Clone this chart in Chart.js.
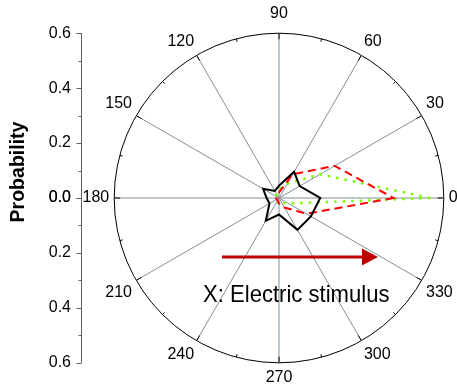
<!DOCTYPE html>
<html><head><meta charset="utf-8">
<script src="https://cdn.jsdelivr.net/npm/chart.js@4.4.1/dist/chart.umd.min.js"></script>
<style>html,body{margin:0;padding:0;background:#fff;overflow:hidden;width:457px;height:392px}canvas{display:block}</style>
</head><body>
<canvas id="c" width="469" height="392"></canvas>
<script>
// ---- data ----
const angles      = [0, 30, 60, 90, 120, 150, 180, 210, 240, 270, 300, 330];
const blackSeries = [0.150, 0.087, 0.110, 0.045, 0.030, 0.067, 0.045, 0.040, 0.096, 0.060, 0.134, 0.134];
const redSeries   = [0.417, 0.234, 0.100, 0.020, 0.010, 0.010, 0.010, 0.010, 0.010, 0.020, 0.040, 0.115];
const greenSeries = [0.550, 0.173, 0.060, 0.030, 0.020, 0.010, 0.010, 0.010, 0.010, 0.025, 0.020, 0.040];
const radialTicks = [0.0, 0.2, 0.4, 0.6];
const axisTitle = 'Probability';
const stimulusLabel = 'X: Electric stimulus';

const FONT = '"Liberation Sans", Arial, sans-serif';

// radar runs clockwise from its start; polar angles run counter-clockwise from 0 at right
const order = angles.map((a, i) => i === 0 ? 0 : angles.length - i);
const pick = arr => order.map(i => arr[i]);
const labels = pick(angles).map(String);
const rMax = radialTicks[radialTicks.length - 1];

const circleTicks = {
  id: 'circleTicks',
  afterDatasetsDraw(chart) {
    const s = chart.scales.r, ctx = chart.ctx;
    const R = s.getDistanceFromCenterForValue(rMax);
    ctx.save();
    ctx.strokeStyle = '#000';
    ctx.lineWidth = 1;
    for (let k = 0; k < 24; k++) {
      const a = k * Math.PI / 12;
      const len = k % 2 === 0 ? 6 : 3;
      ctx.beginPath();
      ctx.moveTo(s.xCenter + Math.cos(a) * R, s.yCenter - Math.sin(a) * R);
      ctx.lineTo(s.xCenter + Math.cos(a) * (R - len), s.yCenter - Math.sin(a) * (R - len));
      ctx.stroke();
    }
    ctx.restore();
  }
};

const leftAxis = {
  id: 'leftAxis',
  afterDraw(chart) {
    const s = chart.scales.r, ctx = chart.ctx;
    const ax = 81.5, cy = s.yCenter;
    const d = v => s.getDistanceFromCenterForValue(v);
    ctx.save();
    ctx.strokeStyle = '#606060';
    ctx.lineWidth = 1;
    ctx.beginPath();
    ctx.moveTo(ax, cy - d(rMax));
    ctx.lineTo(ax, cy + d(rMax));
    ctx.stroke();
    radialTicks.forEach(v => {
      [-1, 1].forEach(sg => {
        const y = Math.round(cy + sg * d(v)) + 0.5;
        ctx.beginPath(); ctx.moveTo(ax - 5, y); ctx.lineTo(ax, y); ctx.stroke();
      });
    });
    for (let i = 0; i < radialTicks.length - 1; i++) {
      const v = (radialTicks[i] + radialTicks[i + 1]) / 2;
      [-1, 1].forEach(sg => {
        const y = Math.round(cy + sg * d(v)) + 0.5;
        ctx.beginPath(); ctx.moveTo(ax - 3, y); ctx.lineTo(ax, y); ctx.stroke();
      });
    }
    ctx.fillStyle = '#000';
    ctx.font = '16px ' + FONT;
    ctx.textAlign = 'right';
    ctx.textBaseline = 'middle';
    radialTicks.forEach(v => {
      [-1, 1].forEach(sg => {
        ctx.fillText(v.toFixed(1), 71, cy + sg * d(v));
      });
    });
    // title
    ctx.save();
    ctx.translate(18, 172);
    ctx.rotate(-Math.PI / 2);
    ctx.scale(0.93, 1);
    ctx.textAlign = 'center';
    ctx.font = 'bold 21px ' + FONT;
    ctx.fillText(axisTitle, 0, 0);
    ctx.restore();
    // stimulus arrow + text
    ctx.strokeStyle = '#c00000';
    ctx.fillStyle = '#c00000';
    ctx.lineWidth = 3;
    ctx.beginPath(); ctx.moveTo(222, 257); ctx.lineTo(364, 257); ctx.stroke();
    ctx.beginPath(); ctx.moveTo(362, 248.5); ctx.lineTo(378, 257); ctx.lineTo(362, 265.5); ctx.closePath(); ctx.fill();
    ctx.fillStyle = '#000';
    ctx.textAlign = 'left';
    ctx.textBaseline = 'alphabetic';
    ctx.save();
    ctx.translate(203, 302);
    ctx.scale(0.92, 1);
    ctx.font = '24px ' + FONT;
    ctx.fillText(stimulusLabel, 0, 0);
    ctx.restore();
    ctx.restore();
  }
};

new Chart(document.getElementById('c'), {
  type: 'radar',
  data: {
    labels: labels,
    datasets: [
      { data: pick(blackSeries), borderColor: '#000000', borderWidth: 2 },
      { data: pick(redSeries), borderColor: '#ff0000', borderWidth: 2, borderDash: [8, 5] },
      { data: pick(greenSeries), borderColor: '#7cfc00', borderWidth: 2.5, borderDash: [2.5, 6] }
    ]
  },
  options: {
    responsive: false,
    animation: false,
    devicePixelRatio: 1,
    layout: { padding: { left: 72, right: 0, top: 2, bottom: 2 } },
    elements: { point: { radius: 0, hoverRadius: 0 }, line: { fill: false, tension: 0 } },
    plugins: { legend: { display: false }, tooltip: { enabled: false } },
    scales: {
      r: {
        min: 0, max: rMax,
        startAngle: 90,
        ticks: { display: false, stepSize: rMax },
        grid: { circular: true, color: '#000', lineWidth: 1 },
        angleLines: { color: '#7f8f99', lineWidth: 1 },
        pointLabels: {
          color: '#000',
          font: { size: 16, family: FONT },
          padding: c => (c.label === '90' ? 10 : 5)
        }
      }
    }
  },
  plugins: [circleTicks, leftAxis]
});
</script>
</body></html>
